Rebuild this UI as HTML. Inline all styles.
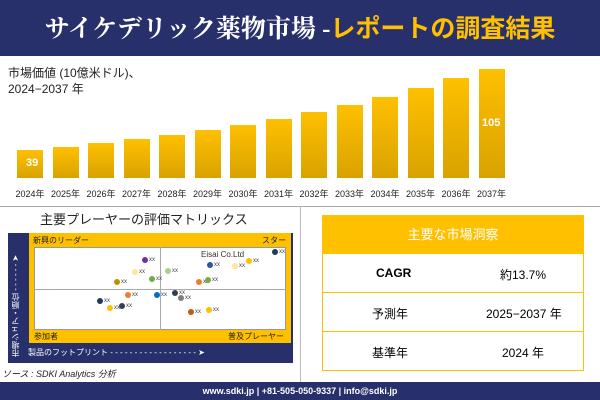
<!DOCTYPE html><html><head><meta charset="utf-8"><style>
body{margin:0;width:600px;height:400px;position:relative;background:#fff;font-family:"Liberation Sans","Noto Sans CJK JP",sans-serif;overflow:hidden}
.a{position:absolute}
.bar{position:absolute;width:26px;bottom:222px;background:linear-gradient(#ffc000,#d9a200)}
.yl{position:absolute;top:187px;font-size:9px;width:40px;text-align:center;color:#222}
.dot{position:absolute;width:6px;height:6px;border-radius:50%}
.xx{position:absolute;font-size:6px;color:#444}
.row{position:absolute;left:322px;width:262px;height:38px;border-bottom:1px solid #ffc000;font-size:12px}
.row span{position:absolute;top:12px}
</style></head><body>
<div class="a" style="left:0;top:0;width:600px;height:56px;background:#27306b"></div>
<div class="a" style="left:0;top:9px;width:600px;text-align:center;font-size:25px;font-weight:bold;color:#fff;font-family:'Liberation Serif','Noto Serif CJK SC',serif">サイケデリック薬物市場 -<span style="color:#ffc000;font-family:'Liberation Sans','Noto Sans CJK JP',sans-serif">レポートの調査結果</span></div>
<div class="a" style="left:8px;top:65px;font-size:12px;line-height:16px;color:#222">市場価値 (10億米ドル)、<br>2024−2037 年</div>
<div id="bars"></div>
<div class="a" style="left:26px;top:157px;font-size:11px;font-weight:bold;color:#fff">39</div>
<div class="a" style="left:482px;top:117px;font-size:11px;font-weight:bold;color:#fff">105</div>
<div class="a" style="left:0;top:206px;width:600px;height:1px;background:#aaa"></div>
<div class="a" style="left:300px;top:206px;width:1px;height:176px;background:#bbb"></div>
<div class="a" style="left:40px;top:209px;font-size:13px;color:#222">主要プレーヤーの評価マトリックス</div>
<div class="a" style="left:8px;top:233px;width:285px;height:130px;background:#27306b"></div>
<div class="a" style="left:29px;top:233px;width:262px;height:110px;background:#ffc000"></div>
<div class="a" style="left:34px;top:247px;width:252px;height:83px;background:#fff;border:1px solid #999;box-sizing:border-box"></div>
<div class="a" style="left:160px;top:247px;width:1px;height:83px;background:#aaa"></div>
<div class="a" style="left:34px;top:289px;width:252px;height:1px;background:#aaa"></div>
<div class="a" style="left:33px;top:235px;font-size:8px;color:#222">新興のリーダー</div>
<div class="a" style="left:262px;top:235px;font-size:8px;color:#222">スター</div>
<div class="a" style="left:34px;top:331px;font-size:8px;color:#222">参加者</div>
<div class="a" style="left:228px;top:331px;font-size:8px;color:#222">普及プレーヤー</div>
<div class="a" style="left:201px;top:250px;font-size:8px;color:#333">Eisai Co.Ltd</div>
<div class="a" style="left:28px;top:347px;font-size:8px;color:#fff">製品のフットプリント - - - - - - - - - - - - - - - - - - ➤</div>
<div class="a" style="left:10px;top:245px;width:12px;font-size:8px;color:#fff;writing-mode:vertical-rl;transform:rotate(180deg);height:112px">市場シェア・順位 - - - - - - ➤</div>
<div id="pts"></div>
<div class="a" style="left:2px;top:367px;font-size:9px;font-style:italic;color:#222">ソース : SDKI Analytics 分析</div>
<div class="a" style="left:322px;top:215px;width:262px;height:39px;background:#ffc000;color:#fff;font-size:13px;text-align:center;line-height:39px">主要な市場洞察</div>
<div class="a" style="left:322px;top:254px;width:1px;height:117px;background:#ffc000"></div>
<div class="a" style="left:583px;top:254px;width:1px;height:117px;background:#ffc000"></div>
<div class="row" style="top:254px"><span style="left:54px;font-weight:bold">CAGR</span><span style="left:178px">約13.7%</span></div>
<div class="row" style="top:293px"><span style="left:50px">予測年</span><span style="left:164px">2025−2037 年</span></div>
<div class="row" style="top:332px"><span style="left:50px">基準年</span><span style="left:180px">2024 年</span></div>
<div class="a" style="left:0;top:382px;width:600px;height:18px;background:#27306b;color:#fff;font-size:9px;font-weight:bold;text-align:center;line-height:18px">www.sdki.jp | +81-505-050-9337 | info@sdki.jp</div>
<script>
var t=[150,147,143,139,135,130,125,119,112,105,97,88,78,69],h='';
for(var i=0;i<14;i++){var x=17+i*35.5;h+='<div class="bar" style="left:'+x+'px;height:'+(178-t[i])+'px;bottom:'+(400-178)+'px"></div><div class="yl" style="left:'+(x-7)+'px">'+(2024+i)+'年</div>';}
document.getElementById('bars').innerHTML=h;
var p=[[145,260,'#7030a0'],[135,272,'#ffe699'],[117,282,'#bf9000'],[152,279,'#70ad47'],[168,271,'#a9d18e'],[210,265,'#2e5597'],[249,261,'#ffc000'],[235,266,'#ffe699'],[275,252,'#1f3864'],[199,282,'#ed7d31'],[208,280,'#70ad47'],[128,295,'#ed7d31'],[157,295,'#0070c0'],[100,301,'#1f3864'],[110,308,'#ffc000'],[122,306,'#333f50'],[175,293,'#333f50'],[181,298,'#7f7f7f'],[191,312,'#c55a11'],[209,310,'#ffc000']],q='';
p.forEach(function(d){q+='<div class="dot" style="left:'+(d[0]-3)+'px;top:'+(d[1]-3)+'px;background:'+d[2]+'"></div><div class="xx" style="left:'+(d[0]+4)+'px;top:'+(d[1]-3)+'px">xx</div>';});
document.getElementById('pts').innerHTML=q;
</script>
</body></html>
